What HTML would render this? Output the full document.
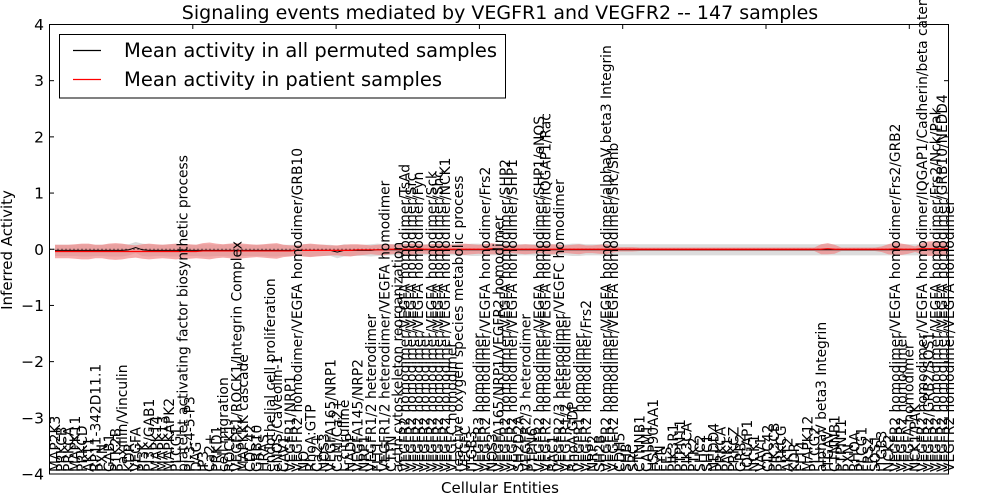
<!DOCTYPE html>
<html><head><meta charset="utf-8"><style>
html,body{margin:0;padding:0;background:#fff;}
svg{display:block;font-family:"DejaVu Sans","Liberation Sans",sans-serif;}
</style></head><body>
<svg id="chart" width="1000" height="500" viewBox="0 0 1000 500">
<rect x="0" y="0" width="1000" height="500" fill="#fff"/>
<g id="bands"></g>
<g id="lines"></g>
<g id="yaxis"></g>
<g id="xaxis"></g>
<rect x="49.5" y="24.5" width="899" height="449.5" fill="none" stroke="#000" stroke-width="1"/>
<text x="500" y="19" text-anchor="middle" font-size="19">Signaling events mediated by VEGFR1 and VEGFR2 -- 147 samples</text>
<text x="500" y="493" text-anchor="middle" font-size="15">Cellular Entities</text>
<text transform="translate(12,250) rotate(-90)" text-anchor="middle" font-size="15">Inferred Activity</text>
<g>
<rect x="59.5" y="34.5" width="446" height="63.5" fill="#fff" stroke="#000" stroke-width="1"/>
<line x1="73" y1="50.5" x2="101" y2="50.5" stroke="#000" stroke-width="1.2"/>
<text x="124" y="57" font-size="19.5">Mean activity in all permuted samples</text>
<line x1="73" y1="79.5" x2="101" y2="79.5" stroke="#f00" stroke-width="1.2"/>
<text x="124" y="86" font-size="19.5">Mean activity in patient samples</text>
</g>
</svg>
<script>
const entities = ["MAP2K3","PRKCB","PRKCA","MAPK11","PRKCD","AKT1","RP11-342D11.1","PXN","GAB1","PTK2B",
"Paxillin/Vinculin","KDR","VEGFA","PI3K","PI3K/GAB1","MAPK14","MAPK13","MAPKAPK2","PLCG1","platelet activating factor biosynthetic process",
"PI-3-4-5-P3","DAG","IP3","Ca2+","PRKD1","cell migration","ROCK1","VEGFR1/ROCK1/Integrin Complex","MAPKKK cascade","CDC42",
"GRB10","HRAS","endothelial cell proliferation","eNOS/Caveolin-1","CAV1","VEGFR1/NRP1","VEGFR2 homodimer/VEGFA homodimer/GRB10","NO","RhoA:GTP","Ca2+",
"NOS3","VEGFA165/NRP1","CaM/Ca2+","L-citrulline","NADP","VEGFA145/NRP2","NRP1","VEGFR1/2 heterodimer","FLT1","VEGFR1/2 heterodimer/VEGFA homodimer",
"CTTN","actin cytoskeleton reorganization","VEGFR2 homodimer/VEGFA homodimer/TsAd","VEGFR2 homodimer/VEGFA homodimer/Src","VEGFR2 homodimer/VEGFA homodimer/Fyn","VEGFR2 homodimer","VEGFR2 homodimer/VEGFA homodimer/Sck","VEGFR2 homodimer/VEGFA homodimer/Shc","VEGFR2 homodimer/VEGFA homodimer/NCK1","VEGFC homodimer",
"reactive oxygen species metabolic process","VEGFC","ITGB3","VEGFR3 homodimer","VEGFR2 homodimer/VEGFA homodimer/Frs2","NOS3","VEGFA165/NRP1/VEGFR2 homodimer","VEGFR2 homodimer/VEGFA homodimer/SHP2","VEGFR2 homodimer/VEGFA homodimer/SHP1","SH2D2A",
"VEGFR2/3 heterodimer","PTPN6","VEGFR2 homodimer/VEGFA homodimer/SHP1/eNOS","VEGFR2 homodimer/VEGFA homodimer/IQGAP1/Rac","RAC1","VEGFR2/3 heterodimer/VEGFC homodimer","VEGFR1/2 heterodimer","RhoA:GDP","VEGFR1 homodimer","VEGFR2 homodimer/Frs2",
"NRP2","SH2B","VEGFR2 homodimer/VEGFA homodimer/alphaV beta3 Integrin","VEGFR2 homodimer/VEGFA homodimer/Src/Shb","CDH5","SHB","SRC","CTNNB1","CALM1","HSP90AA1",
"FYN","FES","PIK3R1","PTPN11","PIK3CA","PTK2","SHC2","SHC1","NEDD4","PRKCA",
"PAK1","PRKCZ","GRB2","IQGAP1","NCK1","VAV1","CDC42","PIK3CB","PRKCG","AKT2",
"KDR","FLT4","MAPK12","PLCG2","alphaV beta3 Integrin","ITGAV","CTNNB1","PTPN11","PXN","RHOA",
"PLCG1","FRS2","SOS1","ITGB3","NCK2","VEGFR2 homodimer/VEGFA homodimer/Frs2/GRB2","VEGFR2 homodimer","VEGFA homodimer","NCK1/PAK","VEGFR2 homodimer/VEGFA homodimer/IQGAP1/Cadherin/beta catenin",
"VEGFR2/GRB2/SOS1","VEGFR2 homodimer/VEGFA homodimer/Frs2/Nck/Pak","VEGFR2 homodimer/VEGFA homodimer/GRB10/NEDD4","VEGFR2 homodimer/VEGFA homodimer"];
const patientMean = [-.04,-.04,-.04,-.04,-.04,-.04,-.04,-.04,-.04,-.04,
-.04,-.04,-.04,-.04,-.04,-.04,-.04,-.04,-.04,-.04,
-.04,-.04,-.03,-.03,-.03,-.03,-.03,-.03,-.03,-.03,
-.03,-.03,-.03,-.03,-.03,-.03,-.02,-.02,-.02,-.02,
-.02,-.02,-.02,-.02,-.02,-.01,-.01,-.01,-.01,-.01,
0,0,0,0,.01,0,0,0,0,0,
0,0,0,0,0,.01,0,0,0,0,
0,0,0,0,0,0,0,0,0,0,
0,0,0,0,0,0,0,0,0,0,
0,0,0,0,0,0,0,0,0,0,
0,0,0,0,0,0,0,0,0,0,
0,0,0,0,0,.01,0,0,0,0,
0,0,0,0,0,.01,0,0,0,.01,
.01,.01,.01,.01];
const patientBand = [.12,.12,.12,.13,.14,.14,.12,.12,.14,.15,
.14,.12,.11,.13,.14,.13,.12,.13,.14,.13,
.13,.12,.14,.15,.13,.12,.13,.14,.13,.12,
.11,.12,.13,.14,.11,.10,.09,.11,.12,.11,
.10,.09,.09,.10,.11,.10,.09,.08,.09,.10,
.09,.08,.09,.10,.09,.08,.09,.10,.09,.08,
.09,.10,.09,.08,.09,.10,.09,.08,.07,.08,
.09,.08,.07,.08,.09,.08,.07,.08,.09,.07,
.07,.08,.09,.06,.04,.04,.04,.03,.03,.03,
.03,.03,.03,.03,.03,.03,.03,.03,.03,.03,
.03,.03,.03,.03,.03,.03,.03,.03,.03,.03,
.03,.03,.03,.03,.09,.10,.08,.03,.03,.03,
.03,.03,.03,.05,.09,.11,.10,.08,.05,.10,
.13,.13,.13,.12];
const permMean = [-.02,-.02,-.02,-.02,-.02,-.02,-.02,-.02,-.02,-.02,
-.02,-.01,.03,-.01,-.02,-.02,-.02,-.02,-.02,-.02,
-.02,-.02,-.02,-.02,-.02,-.02,-.02,-.02,-.02,-.02,
-.02,-.02,-.02,-.02,-.02,-.02,-.02,-.02,-.02,-.02,
-.02,-.02,-.05,-.02,-.02,-.02,-.02,-.02,-.01,-.01,
-.01,-.01,-.01,-.01,-.01,-.01,-.01,-.01,-.01,-.01,
-.01,-.01,-.01,-.01,-.01,-.01,-.01,-.01,-.01,-.01,
-.01,-.01,-.01,-.01,-.01,-.01,-.01,-.01,-.01,-.01,
-.01,-.01,-.01,-.01,-.01,-.01,-.01,-.01,-.01,-.01,
-.01,-.01,-.01,-.01,-.01,-.01,-.01,-.01,-.01,-.01,
-.01,-.01,-.01,-.01,-.01,-.01,-.01,-.01,-.01,-.01,
-.01,-.01,-.01,-.01,-.01,-.01,-.01,-.01,-.01,-.01,
-.01,-.01,-.01,-.01,-.01,-.01,-.01,-.01,-.01,-.01,
-.01,-.01,-.01,-.01];
const permBand = [.10,.10,.10,.10,.11,.11,.10,.10,.11,.11,
.11,.10,.10,.11,.11,.10,.10,.11,.11,.10,
.10,.10,.11,.11,.10,.10,.11,.11,.10,.10,
.10,.10,.11,.11,.10,.10,.10,.11,.11,.10,
.10,.10,.11,.11,.10,.10,.10,.11,.11,.10,
.10,.10,.11,.11,.10,.10,.10,.11,.11,.10,
.10,.10,.11,.11,.10,.10,.10,.11,.11,.10,
.10,.10,.11,.11,.10,.10,.10,.11,.11,.10,
.10,.10,.11,.11,.10,.10,.10,.10,.10,.10,
.10,.10,.10,.10,.10,.10,.10,.10,.10,.10,
.10,.10,.10,.10,.10,.10,.10,.10,.10,.10,
.10,.10,.10,.10,.10,.10,.10,.10,.10,.10,
.10,.10,.10,.10,.10,.10,.10,.10,.10,.10,
.10,.10,.10,.10];
const yTicks = [-4,-3,-2,-1,0,1,2,3,4];

const NS = "http://www.w3.org/2000/svg";
const X0 = 55, STEP = 6.72;
function xs(i){ return X0 + i*STEP; }
function ys(v){ return 249.25 - v*56.19; }
function mk(tag, attrs, parent){
  const el = document.createElementNS(NS, tag);
  for (const k in attrs) el.setAttribute(k, attrs[k]);
  parent.appendChild(el);
  return el;
}
const bands = document.getElementById('bands');
const lines = document.getElementById('lines');
const yaxis = document.getElementById('yaxis');
const xaxis = document.getElementById('xaxis');

function bandPath(mean, band){
  let up = [], dn = [];
  for (let i=0;i<mean.length;i++){
    up.push(xs(i).toFixed(2)+","+ys(mean[i]+band[i]).toFixed(2));
    dn.unshift(xs(i).toFixed(2)+","+ys(mean[i]-band[i]).toFixed(2));
  }
  return "M"+up.join("L")+"L"+dn.join("L")+"Z";
}
function linePath(mean){
  return "M"+mean.map((v,i)=>xs(i).toFixed(2)+","+ys(v).toFixed(2)).join("L");
}
const gb = mk('path',{d:bandPath(permMean,permBand),fill:'#bfbfbf','fill-opacity':'0.55',stroke:'none'},bands);


const rb = mk('path',{d:bandPath(patientMean,patientBand),fill:'#f08080','fill-opacity':'0.65',stroke:'none'},bands);


const zl = mk('line',{x1:49.5,x2:948.5,y1:ys(0),y2:ys(0),stroke:'#000','stroke-width':1,'stroke-dasharray':'1,3'},lines);


const pl = mk('path',{d:linePath(permMean),fill:'none',stroke:'#000','stroke-width':1},lines);


const rl = mk('path',{d:linePath(patientMean),fill:'none',stroke:'#f00','stroke-width':1.2},lines);



yTicks.forEach(v=>{
  const y = ys(v);
  const t1 = mk('line',{x1:49.5,x2:54,y1:y,y2:y,stroke:'#000'},yaxis);
  
  
  const t2 = mk('line',{x1:944,x2:948.5,y1:y,y2:y,stroke:'#000'},yaxis);
  
  
  const lb = mk('text',{x:44,y:y+5.5,'text-anchor':'end','font-size':15.5},yaxis);
  lb.textContent = v===0? "0" : (v<0? "\u2212"+(-v) : String(v));
  
  
});
for (let k=1;k<=6;k++){
  const x = 49.5 + k*143.3;
  const t = mk('line',{x1:x,x2:x,y1:24.5,y2:29,stroke:'#000'},xaxis);
  
  
}
entities.forEach((name,i)=>{
  const x = xs(i);
  const lb = mk('text',{transform:'translate('+(x+5).toFixed(2)+',472) rotate(-90)','font-size':13.8},xaxis);
  lb.textContent = name;
  
  
});
</script>
</body></html>
